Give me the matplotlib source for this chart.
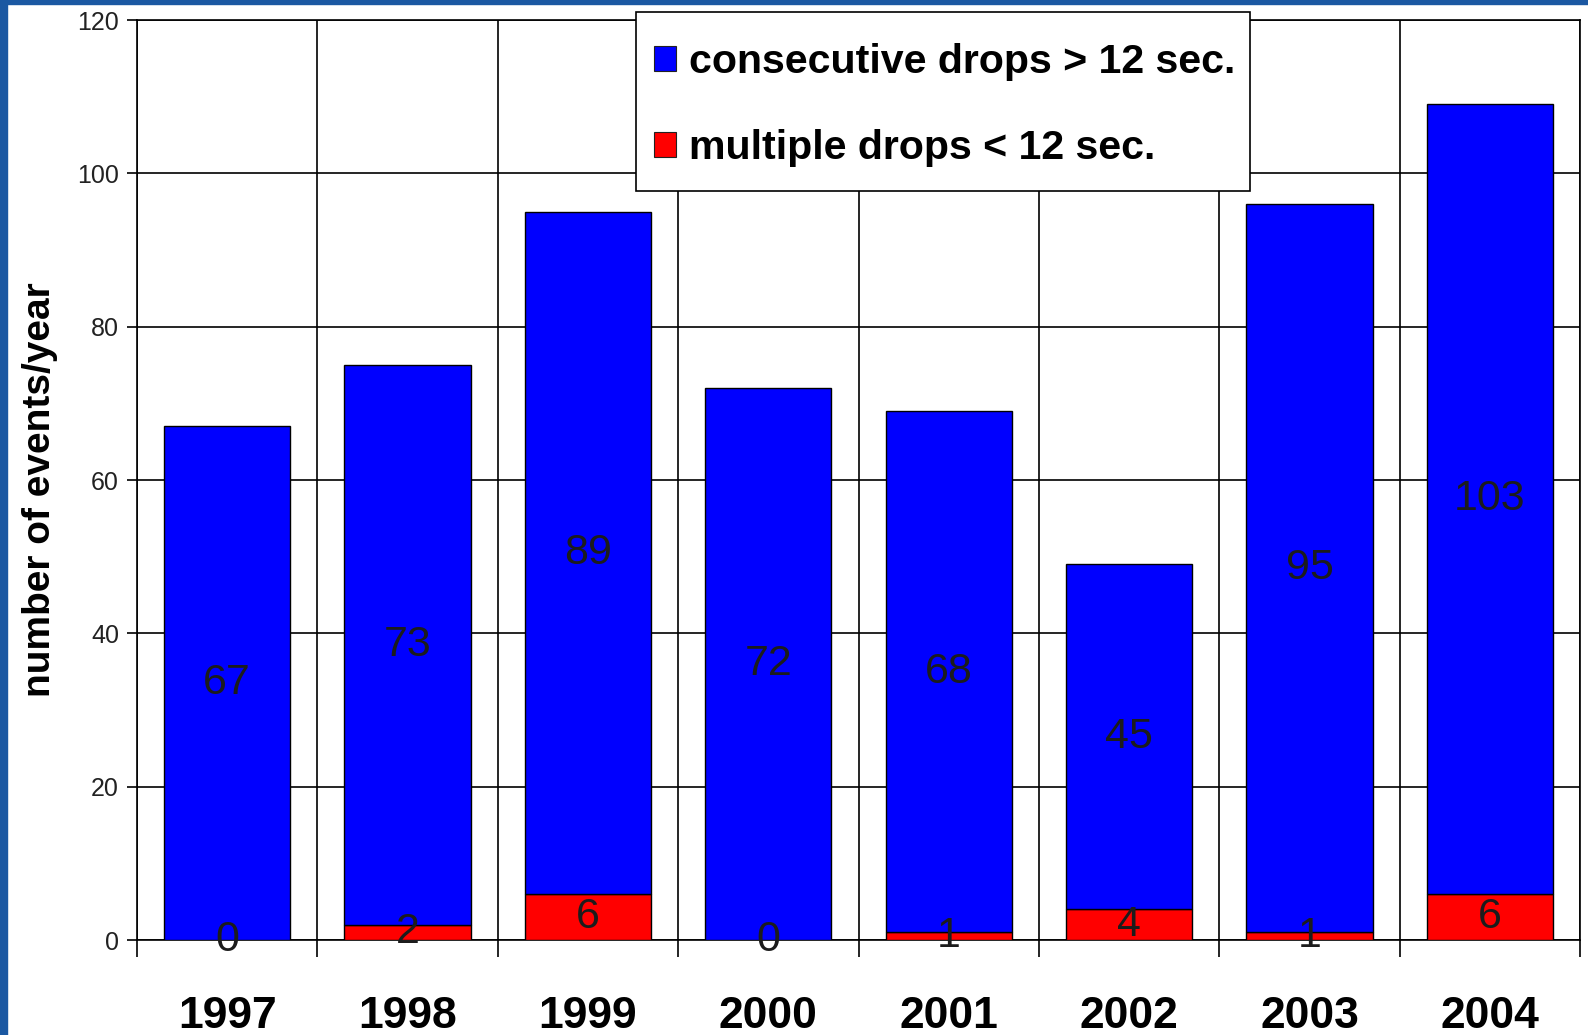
import matplotlib
matplotlib.use("Agg")
import matplotlib.pyplot as plt
from matplotlib.patches import Rectangle, Patch
import numpy as np

years = ["1997", "1998", "1999", "2000", "2001", "2002", "2003", "2004"]
multiple_drops = [0, 2, 6, 0, 1, 4, 1, 6]
consecutive_drops = [67, 73, 89, 72, 68, 45, 95, 103]
y_ticks = [0, 20, 40, 60, 80, 100, 120]

plt.rcParams['font.family'] = ['Liberation Sans', 'DejaVu Sans']

W, H = 1588, 1035
fig = plt.figure(figsize=(W / 100, H / 100), dpi=100)
fig.patch.set_facecolor('white')

# blue frame bands
border = '#1b58a2'
fig.patches.append(Rectangle((0, 0), 7 / W, 1, transform=fig.transFigure, color=border, zorder=0))
fig.patches.append(Rectangle((0, 1 - 4 / H), 1, 4 / H, transform=fig.transFigure, color=border, zorder=0))

left, right, top, bottom = 137, 1580, 20, 940
ax = fig.add_axes([left / W, 1 - bottom / H, (right - left) / W, (bottom - top) / H])

x = np.arange(len(years))
bw = 0.70
blue = '#0000ff'
red = '#ff0000'
ax.bar(x, multiple_drops, width=bw, color=red, edgecolor='black', linewidth=1.0, zorder=3)
ax.bar(x, consecutive_drops, width=bw, bottom=multiple_drops, color=blue, edgecolor='black',
       linewidth=1.0, zorder=3)

lab_col = '#1c1c1c'
for xi, m, c in zip(x, multiple_drops, consecutive_drops):
    ax.text(xi, m / 2, str(m), ha='center', va='center', fontsize=31, color=lab_col, zorder=5)
    ax.text(xi, m + c / 2, str(c), ha='center', va='center', fontsize=31, color=lab_col, zorder=5)

ax.set_xlim(-0.5, len(years) - 0.5)
ax.set_ylim(0, 120)

# x: boundary ticks (grid), centred labels
ax.set_xticks(np.arange(len(years) + 1) - 0.5)
ax.set_xticklabels([])
ax.set_xticks(x, minor=True)
ax.set_xticklabels(years, minor=True, fontsize=32, fontweight='bold')
ax.tick_params(axis='x', which='major', length=12, width=1.2, color='black', direction='out')
ax.tick_params(axis='x', which='minor', length=0, pad=40)

ax.set_yticks(y_ticks)
ax.set_yticklabels([str(v) for v in y_ticks], fontsize=18, color='#222222')
ax.tick_params(axis='y', length=7, width=1.2, color='black', pad=6)

ax.grid(True, which='major', color='black', linewidth=1.2, zorder=1)
ax.set_axisbelow(True)
for s in ax.spines.values():
    s.set_color('black')
    s.set_linewidth(1.2)

fig.text(40 / W, 1 - 490 / H, 'number of events/year', rotation=90, ha='center', va='center',
         fontsize=28, fontweight='bold')

# legend box
fig.patches.append(Rectangle((636 / W, 1 - 191 / H), (1250 - 636) / W, (191 - 12) / H,
                             transform=fig.transFigure, facecolor='white', edgecolor='black',
                             linewidth=1.2, zorder=9))

handles = [Patch(facecolor=blue, edgecolor='#222222', linewidth=0.8),
           Patch(facecolor=red, edgecolor='#222222', linewidth=0.8)]
leg = fig.legend(handles, ['consecutive drops > 12 sec.', 'multiple drops < 12 sec.'],
                 loc='upper left', bbox_to_anchor=(623 / W, 1 - 12 / H), bbox_transform=fig.transFigure,
                 prop={'family': 'Liberation Sans', 'weight': 'bold', 'size': 29.6},
                 frameon=False,
                 handlelength=0.55, handleheight=0.55, handletextpad=0.3,
                 labelspacing=1.18, borderpad=0.75, borderaxespad=0)
leg.set_zorder(10)

fig.savefig('out.png', dpi=100, facecolor='white')
